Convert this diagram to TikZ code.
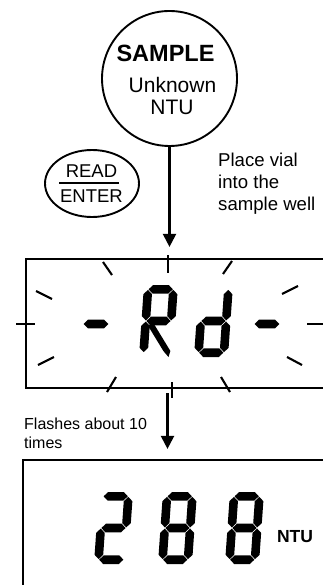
\documentclass[tikz,border=0pt]{standalone}
\usepackage{fontspec}
\setmainfont{Liberation Sans}
\usetikzlibrary{arrows.meta,positioning,shapes.geometric}
% segments of the LCD digits (origin at top left, y down)
\newcommand{\hseg}[3]{\fill (#1+0.6,#3) -- (#1+4.9,#3+4.3) -- (#2-4.9,#3+4.3) -- (#2-0.6,#3) -- (#2-4.9,#3-4.3) -- (#1+4.9,#3-4.3) -- cycle;}
\newcommand{\vseg}[3]{\fill (#1,#2+0.6) -- (#1+4.3,#2+4.9) -- (#1+4.3,#3-4.9) -- (#1,#3-0.6) -- (#1-4.3,#3-4.9) -- (#1-4.3,#2+4.9) -- cycle;}
\newcommand{\lcdsega}{\hseg{4.3}{29.7}{4.3}}
\newcommand{\lcdsegb}{\vseg{29.7}{4.3}{36}}
\newcommand{\lcdsegc}{\vseg{29.7}{36}{67.7}}
\newcommand{\lcdsegd}{\hseg{4.3}{29.7}{67.7}}
\newcommand{\lcdsege}{\vseg{4.3}{36}{67.7}}
\newcommand{\lcdsegf}{\vseg{4.3}{4.3}{36}}
\newcommand{\lcdsegg}{\hseg{4.3}{29.7}{36}}
\newcommand{\lcdsegk}{\fill (6,39.5) -- (13,39.5) -- (31,66) -- (29.5,72) -- (24,66) -- cycle;}
\newcommand{\lcddigit}[3]{%
  \begin{scope}[shift={(#1,#2)}, xslant=0.07]
    \foreach \s in {#3} {\csname lcdseg\s\endcsname}
  \end{scope}}
\tikzset{
  lcdbox/.style={draw, line width=2.2pt, rectangle, inner sep=0pt},
  lcdarrow/.style={-{Triangle[length=13pt, width=13pt]}, line width=2.2pt},
  lcdtick/.style={line width=2.2pt},
  flashmark/.style={line width=2.1pt},
  notetext/.style={align=left, inner sep=0pt}
}

\begin{document}
\begin{tikzpicture}[x=1pt, y=-1pt]
    \useasboundingbox (0,0) rectangle (323,585);
    \clip (0,0) rectangle (323,585);
    % sample and key
    \node[circle, draw, line width=1.9pt, minimum size=135pt, inner sep=0pt] (sample) at (169.5,78.5) {};
    \node[anchor=base, inner sep=0pt, font=\fontsize{23.5}{28}\selectfont\bfseries] (sampletitle) at (165.5,62) {SAMPLE};
    \node[anchor=base, inner sep=0pt, font=\fontsize{21}{25}\selectfont] (unknown) at (172.5,93) {Unknown};
    \node[anchor=base, inner sep=0pt, font=\fontsize{21}{25}\selectfont] (unknownntu) at (172,115) {NTU};
    \node[ellipse, draw, line width=1.9pt, minimum width=94pt, minimum height=67pt, inner sep=0pt] (readkey) at (92,183.5) {};
    \node[anchor=base, inner sep=0pt, font=\fontsize{18.5}{22}\selectfont] (readlabel) at (91.5,178) {READ};
    \node[anchor=base, inner sep=0pt, font=\fontsize{18.5}{22}\selectfont] (enterlabel) at (91.5,203) {ENTER};
    \draw[line width=2.4pt] (59,183.3) -- (119,183.3);
    \node[notetext, anchor=base west, font=\fontsize{18.6}{22}\selectfont] (placenote) at (218,211) {Place vial\\into the\\sample well};

    % flashing display
    \node[lcdbox, minimum width=309pt, minimum height=129pt] (rdbox) at (180.5,323.5) {};
    \draw[lcdtick] (168,255) -- (168,273);
    \draw[lcdtick] (16,324) -- (35,324);
    \draw[lcdtick] (307,324) -- (330,324);
    \draw[lcdtick] (172,382) -- (172,398);
    \foreach \xa/\ya/\xb/\yb in {103/262/112/275, 232/261/223/274, 36/291/52/299, 38/365/54/357,
        107/392/116/377, 221/377/230/392, 282/294/298/286, 287/357/302/365}
      \draw[flashmark] (\xa,\ya) -- (\xb,\yb);
    \hseg{83}{109}{324}
    \hseg{254}{280}{324}
    \lcddigit{144}{285}{a,b,e,f,g,k}
    \lcddigit{199}{285}{b,c,d,e,g}
    \draw[lcdarrow, shorten >=11pt] (sample.south) -- (sample.south |- rdbox.north);

    % reading
    \node[lcdbox, minimum width=312pt, minimum height=140pt] (readbox) at (179,530) {};
    \node[notetext, anchor=base west, font=\fontsize{16}{19}\selectfont] (flashnote) at (24,448) {Flashes about 10\\times};
    \coordinate (flashout) at (167.5,393);
    \draw[lcdarrow, shorten >=10pt] (flashout) -- (flashout |- readbox.north);
    \lcddigit{99}{492}{a,b,g,e,d}
    \lcddigit{163}{492}{a,b,c,d,e,f,g}
    \lcddigit{230}{492}{a,b,c,d,e,f,g}
    \node[anchor=base, inner sep=0pt, font=\fontsize{17.5}{21}\selectfont\bfseries] (ntulabel) at (295,542) {NTU};
  \end{tikzpicture}
\end{document}
